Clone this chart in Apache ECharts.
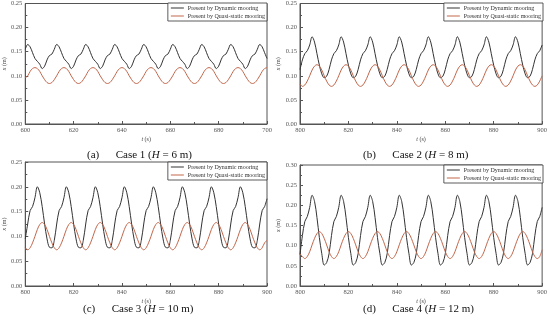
<!DOCTYPE html>
<html>
<head>
<meta charset="utf-8">
<script src="https://cdn.jsdelivr.net/npm/echarts@6/dist/echarts.min.js"></script>
<style>
html,body{margin:0;padding:0;background:#fff;}
#c{width:550px;height:321px;}
</style>
</head>
<body>
<div id="c"></div>
<script>
// ---- data ----
const seriesNames = ['Present by Dynamic mooring', 'Present by Quasi-static mooring'];
const captions = ['Case 1', 'Case 2', 'Case 3', 'Case 4'];
const captionLetters = ['(a)', '(b)', '(c)', '(d)'];
const captionH = ['6 m', '8 m', '10 m', '12 m'];
const xStart = [600, 800, 800, 800];
const xEnd = [700, 900, 900, 900];
const xTicks = [20, 20, 20, 20];
const yMax = [0.25, 0.25, 0.25, 0.30];
const timeStep = 1;

const dynA = [0.155,0.165,0.160,0.148,0.136,0.130,0.124,0.115,0.120,0.133,0.142,0.145,
0.155,0.165,0.160,0.148,0.136,0.130,0.124,0.115,0.120,0.133,0.142,0.145,
0.155,0.165,0.160,0.148,0.136,0.130,0.124,0.115,0.120,0.133,0.142,0.145,
0.155,0.165,0.160,0.148,0.136,0.130,0.124,0.115,0.120,0.133,0.142,0.145,
0.155,0.165,0.160,0.148,0.136,0.130,0.124,0.115,0.120,0.133,0.142,0.145,
0.155,0.165,0.160,0.148,0.136,0.130,0.124,0.115,0.120,0.133,0.142,0.145,
0.155,0.165,0.160,0.148,0.136,0.130,0.124,0.115,0.120,0.133,0.142,0.145,
0.155,0.165,0.160,0.148,0.136,0.130,0.124,0.115,0.120,0.133,0.142,0.145,
0.155,0.165,0.160,0.148,0.136];
const quaA = [0.096,0.100,0.109,0.115,0.117,0.115,0.109,0.100,0.092,0.086,0.084,0.086,
0.092,0.100,0.109,0.115,0.117,0.115,0.109,0.100,0.092,0.086,0.084,0.086,
0.092,0.100,0.109,0.115,0.117,0.115,0.109,0.100,0.092,0.086,0.084,0.086,
0.092,0.100,0.109,0.115,0.117,0.115,0.109,0.100,0.092,0.086,0.084,0.086,
0.092,0.100,0.109,0.115,0.117,0.115,0.109,0.100,0.092,0.086,0.084,0.086,
0.092,0.100,0.109,0.115,0.117,0.115,0.109,0.100,0.092,0.086,0.084,0.086,
0.092,0.100,0.109,0.115,0.117,0.115,0.109,0.100,0.092,0.086,0.084,0.086,
0.092,0.100,0.109,0.115,0.117,0.115,0.109,0.100,0.092,0.086,0.084,0.086,
0.092,0.100,0.109,0.115,0.117];
const dynB = [0.113,0.133,0.146,0.152,0.164,0.181,0.170,0.146,0.122,0.104,0.096,0.099,
0.113,0.133,0.146,0.152,0.164,0.181,0.170,0.146,0.122,0.104,0.096,0.099,
0.113,0.133,0.146,0.152,0.164,0.181,0.170,0.146,0.122,0.104,0.096,0.099,
0.113,0.133,0.146,0.152,0.164,0.181,0.170,0.146,0.122,0.104,0.096,0.099,
0.113,0.133,0.146,0.152,0.164,0.181,0.170,0.146,0.122,0.104,0.096,0.099,
0.113,0.133,0.146,0.152,0.164,0.181,0.170,0.146,0.122,0.104,0.096,0.099,
0.113,0.133,0.146,0.152,0.164,0.181,0.170,0.146,0.122,0.104,0.096,0.099,
0.113,0.133,0.146,0.152,0.164,0.181,0.170,0.146,0.122,0.104,0.096,0.099,
0.113,0.133,0.146,0.152,0.164];
const quaB = [0.083,0.078,0.081,0.089,0.100,0.112,0.120,0.123,0.120,0.112,0.100,0.089,
0.081,0.078,0.081,0.089,0.100,0.112,0.120,0.123,0.120,0.112,0.100,0.089,
0.081,0.078,0.081,0.089,0.100,0.112,0.120,0.123,0.120,0.112,0.100,0.089,
0.081,0.078,0.081,0.089,0.100,0.112,0.120,0.123,0.120,0.112,0.100,0.089,
0.081,0.078,0.081,0.089,0.100,0.112,0.120,0.123,0.120,0.112,0.100,0.089,
0.081,0.078,0.081,0.089,0.100,0.112,0.120,0.123,0.120,0.112,0.100,0.089,
0.081,0.078,0.081,0.089,0.100,0.112,0.120,0.123,0.120,0.112,0.100,0.089,
0.081,0.078,0.081,0.089,0.100,0.112,0.120,0.123,0.120,0.112,0.100,0.089,
0.081,0.078,0.081,0.089,0.100];
const dynC = [0.095,0.125,0.152,0.160,0.178,0.200,0.188,0.160,0.125,0.095,0.078,0.077,
0.092,0.125,0.152,0.160,0.178,0.200,0.188,0.160,0.125,0.095,0.078,0.077,
0.092,0.125,0.152,0.160,0.178,0.200,0.188,0.160,0.125,0.095,0.078,0.077,
0.092,0.125,0.152,0.160,0.178,0.200,0.188,0.160,0.125,0.095,0.078,0.077,
0.092,0.125,0.152,0.160,0.178,0.200,0.188,0.160,0.125,0.095,0.078,0.077,
0.092,0.125,0.152,0.160,0.178,0.200,0.188,0.160,0.125,0.095,0.078,0.077,
0.092,0.125,0.152,0.160,0.178,0.200,0.188,0.160,0.125,0.095,0.078,0.077,
0.092,0.125,0.152,0.160,0.178,0.200,0.188,0.160,0.125,0.095,0.078,0.077,
0.092,0.125,0.152,0.160,0.176];
const quaC = [0.077,0.073,0.077,0.087,0.100,0.114,0.124,0.128,0.124,0.114,0.100,0.087,
0.077,0.073,0.077,0.087,0.100,0.114,0.124,0.128,0.124,0.114,0.100,0.087,
0.077,0.073,0.077,0.087,0.100,0.114,0.124,0.128,0.124,0.114,0.100,0.087,
0.077,0.073,0.077,0.087,0.100,0.114,0.124,0.128,0.124,0.114,0.100,0.087,
0.077,0.073,0.077,0.087,0.100,0.114,0.124,0.128,0.124,0.114,0.100,0.087,
0.077,0.073,0.077,0.087,0.100,0.114,0.124,0.128,0.124,0.114,0.100,0.087,
0.077,0.073,0.077,0.087,0.100,0.114,0.124,0.128,0.124,0.114,0.100,0.087,
0.077,0.073,0.077,0.087,0.100,0.114,0.124,0.128,0.124,0.114,0.100,0.087,
0.077,0.073,0.077,0.087,0.092];
const dynD = [0.078,0.125,0.160,0.172,0.195,0.225,0.210,0.170,0.120,0.080,0.052,0.058,
0.080,0.125,0.160,0.172,0.195,0.225,0.210,0.170,0.120,0.080,0.052,0.058,
0.080,0.125,0.160,0.172,0.195,0.225,0.210,0.170,0.120,0.080,0.052,0.058,
0.080,0.125,0.160,0.172,0.195,0.225,0.210,0.170,0.120,0.080,0.052,0.058,
0.080,0.125,0.160,0.172,0.195,0.225,0.210,0.170,0.120,0.080,0.052,0.058,
0.080,0.125,0.160,0.172,0.195,0.225,0.210,0.170,0.120,0.080,0.052,0.058,
0.080,0.125,0.160,0.172,0.195,0.225,0.210,0.170,0.120,0.080,0.052,0.058,
0.080,0.125,0.160,0.172,0.195,0.225,0.210,0.170,0.120,0.080,0.052,0.058,
0.080,0.125,0.160,0.172,0.195];
const quaD = [0.080,0.073,0.068,0.073,0.085,0.102,0.118,0.130,0.135,0.130,0.118,0.102,
0.085,0.073,0.068,0.073,0.085,0.102,0.118,0.130,0.135,0.130,0.118,0.102,
0.085,0.073,0.068,0.073,0.085,0.102,0.118,0.130,0.135,0.130,0.118,0.102,
0.085,0.073,0.068,0.073,0.085,0.102,0.118,0.130,0.135,0.130,0.118,0.102,
0.085,0.073,0.068,0.073,0.085,0.102,0.118,0.130,0.135,0.130,0.118,0.102,
0.085,0.073,0.068,0.073,0.085,0.102,0.118,0.130,0.135,0.130,0.118,0.102,
0.085,0.073,0.068,0.073,0.085,0.102,0.118,0.130,0.135,0.130,0.118,0.102,
0.085,0.073,0.068,0.073,0.085,0.102,0.118,0.130,0.135,0.130,0.118,0.102,
0.085,0.073,0.068,0.073,0.090];
const dynamicSets = [dynA, dynB, dynC, dynD];
const quasiSets = [quaA, quaB, quaC, quaD];

// ---- layout / style ----
const grids = [
  {left: 22, top: 3, width: 245, height: 121},
  {left: 300, top: 3, width: 243, height: 121},
  {left: 22, top: 162, width: 245, height: 124},
  {left: 300, top: 165, width: 243, height: 121}
];
const captionPos = [
  {left: 82, top: 145},
  {left: 358, top: 145},
  {left: 78, top: 299},
  {left: 358, top: 299}
];
const SERIF = '"Liberation Serif","Times New Roman",serif';
const AX = '#555';
const DYN_COLOR = '#333333';
const QUA_COLOR = '#c2664a';

const option = {
  animation: false,
  backgroundColor: '#fff',
  grid: grids.map(g => Object.assign({show: true, borderColor: AX, borderWidth: 1, backgroundColor: 'transparent'}, g)),
  title: captions.map((c, i) => ({
    left: captionPos[i].left, top: captionPos[i].top,
    text: captionLetters[i] + '      ' + c + ' ({i|H} = ' + captionH[i] + ')',
    textStyle: {fontFamily: SERIF, fontSize: 11, fontWeight: 'normal', color: '#111',
      rich: {i: {fontFamily: SERIF, fontSize: 11, fontStyle: 'italic', color: '#111'}}}
  })),
  legend: grids.map((g, i) => ({
    orient: 'vertical',
    right: 550 - g.left - g.width,
    top: g.top,
    data: seriesNames.map(n => ({name: n, icon: 'rect'})),
    itemWidth: 13, itemHeight: 1, itemGap: 2,
    padding: [2, 2, 2, 3],
    borderColor: '#333', borderWidth: 0.8, backgroundColor: '#fff',
    selectedMode: false,
    textStyle: {fontFamily: SERIF, fontSize: 6, color: '#333', padding: [0, 0, 0, -1]}
  })),
  xAxis: grids.map((g, i) => ({
    type: 'value', gridIndex: i, min: xStart[i], max: xEnd[i], interval: xTicks[i],
    name: '{i|t} (s)', nameLocation: 'middle', nameGap: 12,
    nameTextStyle: {fontFamily: SERIF, fontSize: 6, color: '#444', rich: {i: {fontFamily: SERIF, fontStyle: 'italic', fontSize: 6, color: '#444'}}},
    axisLine: {show: true, lineStyle: {color: AX, width: 1}},
    axisTick: {show: true, inside: true, length: 3, lineStyle: {color: AX}},
    minorTick: {show: true, splitNumber: 2, length: 2, lineStyle: {color: AX}},
    splitLine: {show: false},
    axisLabel: {fontFamily: SERIF, fontSize: 6.5, color: '#555', margin: 3}
  })),
  yAxis: grids.map((g, i) => ({
    type: 'value', gridIndex: i, min: 0, max: yMax[i], interval: 0.05,
    name: '{i|x} (m)', nameLocation: 'middle', nameGap: 17, nameRotate: 90,
    nameTextStyle: {fontFamily: SERIF, fontSize: 6, color: '#444', rich: {i: {fontFamily: SERIF, fontStyle: 'italic', fontSize: 6, color: '#444'}}},
    axisLine: {show: true, lineStyle: {color: AX, width: 1}},
    axisTick: {show: true, inside: true, length: 3, lineStyle: {color: AX}},
    minorTick: {show: true, splitNumber: 2, length: 2, lineStyle: {color: AX}},
    splitLine: {show: false},
    axisLabel: {fontFamily: SERIF, fontSize: 6.5, color: '#555', margin: 3, formatter: v => v.toFixed(2)}
  })),
  series: []
};

grids.forEach((g, i) => {
  const toPairs = arr => arr.map((v, k) => [xStart[i] + k * timeStep, v]);
  option.series.push({
    name: seriesNames[0], type: 'line', xAxisIndex: i, yAxisIndex: i,
    data: toPairs(dynamicSets[i]), symbol: 'none', showSymbol: false, smooth: 0.35,
    lineStyle: {color: DYN_COLOR, width: 1}, itemStyle: {color: DYN_COLOR}
  });
  option.series.push({
    name: seriesNames[1], type: 'line', xAxisIndex: i, yAxisIndex: i,
    data: toPairs(quasiSets[i]), symbol: 'none', showSymbol: false, smooth: 0.35,
    lineStyle: {color: QUA_COLOR, width: 1}, itemStyle: {color: QUA_COLOR}
  });
});

const chart = echarts.init(document.getElementById('c'), null, {renderer: 'canvas'});
chart.setOption(option);
</script>
</body>
</html>
